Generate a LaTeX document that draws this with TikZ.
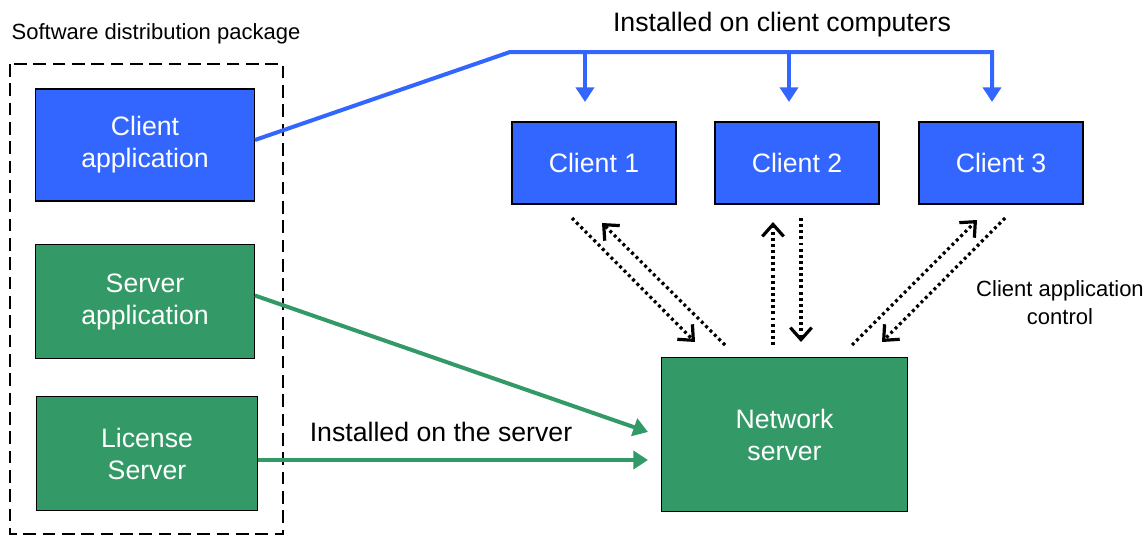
\documentclass[tikz,border=0pt]{standalone}
\usepackage{fontspec}
\setmainfont{Liberation Sans}
\usetikzlibrary{arrows.meta}
\definecolor{appblue}{HTML}{3366FF}
\definecolor{appgreen}{HTML}{339966}
\newcommand{\boxfont}{\fontsize{20}{24}\selectfont}
\newcommand{\notefont}{\fontsize{16.5}{21}\selectfont}
\tikzstyle{appbox}=[draw,line width=0.9pt,text=white,align=center,minimum width=164pt,minimum height=84pt,font=\boxfont]
\tikzstyle{clientbox}=[appbox,fill=appblue,minimum width=123pt,minimum height=61.5pt]
\tikzstyle{pkgframe}=[draw,line width=1.5pt,dash pattern=on 9.5pt off 5pt]
\tikzstyle{bluewire}=[draw=appblue,line width=3pt,line join=miter]
\tikzstyle{greenwire}=[draw=appgreen,line width=3pt,-{Triangle[length=11pt,width=13.5pt]}]
\tikzstyle{ctrl}=[draw,line width=2.4pt,dash pattern=on 2.2pt off 2.4pt,-{Straight Barb[length=9pt,width=16pt]}]

\begin{document}
\begin{tikzpicture}[x=0.75pt,y=-0.75pt]
\useasboundingbox (0,0) rectangle (1148,536);

\node [font=\notefont] (pkglabel) at (156,34) {Software distribution package};
\draw [pkgframe] (10,64) rectangle (283,534);

\node [appbox,fill=appblue] (capp) at (145,145) {Client\\application};
\node [appbox,fill=appgreen,minimum height=85pt] (sapp) at (145,301.5) {Server\\application};
\node [appbox,fill=appgreen,minimum width=166pt,minimum height=86pt] (lsrv) at (147,453.5) {License\\Server};

\node [clientbox] (client1) at (594,163) {Client 1};
\node [clientbox] (client2) at (797,163) {Client 2};
\node [clientbox] (client3) at (1001,163) {Client 3};
\node [appbox,fill=appgreen,minimum width=185pt,minimum height=115pt] (netsrv) at (784.5,434.5) {Network\\server};

% copies handed out to the clients
\node [font=\boxfont] (clientlabel) at (782,25) {Installed on client computers};
\coordinate (bend) at (510,52);
\coordinate (tip1) at (585,102);
\coordinate (tip2) at (789,102);
\coordinate (tip3) at (992,102);
\draw [bluewire,-{Triangle[length=11pt,width=13.5pt]}] ([yshift=3.75pt]capp.east) -- (bend) -- (tip3 |- bend) -- (tip3);
\draw [bluewire,-{Triangle[length=11pt,width=13.5pt]}] (tip1 |- bend) -- (tip1);
\draw [bluewire,-{Triangle[length=11pt,width=13.5pt]}] (tip2 |- bend) -- (tip2);

% server side install
\node [font=\boxfont] (serverlabel) at (441,432) {Installed on the server};
\coordinate (srvtip1) at (648,432);
\coordinate (srvtip2) at (648,460);
\draw [greenwire] ([yshift=4.5pt]sapp.east) -- (srvtip1);
\draw [greenwire] (lsrv.east |- srvtip2) -- (srvtip2);

% control traffic
\coordinate (c1out) at (572,218);
\coordinate (c1in) at (695,342);
\coordinate (n1out) at (725,345);
\coordinate (n1in) at (602,223);
\coordinate (c2out) at (801,218);
\coordinate (c2in) at (801,342);
\coordinate (n2out) at (773,345);
\coordinate (n2in) at (773,222);
\coordinate (c3out) at (1005,218);
\coordinate (c3in) at (882,342);
\coordinate (n3out) at (852,345);
\coordinate (n3in) at (977,220);
\draw [ctrl] (c1out) -- (c1in);
\draw [ctrl] (n1out) -- (n1in);
\draw [ctrl] (c2out) -- (c2in);
\draw [ctrl] (n2out) -- (n2in);
\draw [ctrl] (c3out) -- (c3in);
\draw [ctrl] (n3out) -- (n3in);
\node [font=\notefont,align=center] (ctrllabel) at (1060,303) {Client application\\control};
\end{tikzpicture}
\end{document}
